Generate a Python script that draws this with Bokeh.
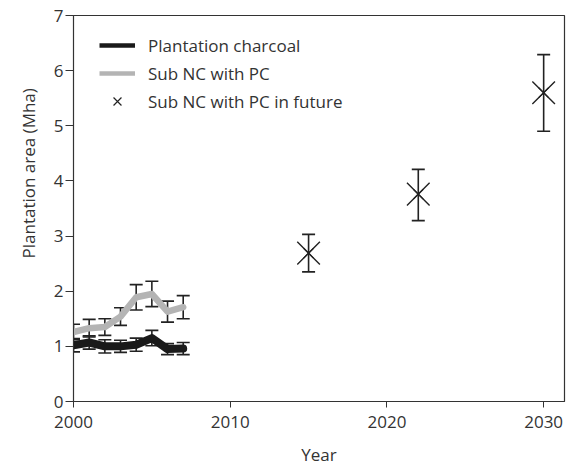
from bokeh.plotting import figure
from bokeh.models import (Range1d, FixedTicker, Whisker, TeeHead, ColumnDataSource,
                          Legend, LegendItem, Title)
from bokeh.embed import file_html
from bokeh.resources import INLINE

# ---- data ----
years_hist = [2000, 2001, 2002, 2003, 2004, 2005, 2006, 2007]
charcoal = [1.02, 1.07, 1.00, 1.00, 1.03, 1.15, 0.95, 0.96]
charcoal_err = [0.12, 0.12, 0.12, 0.11, 0.12, 0.14, 0.10, 0.11]
subnc = [1.26, 1.33, 1.35, 1.54, 1.89, 1.95, 1.63, 1.71]
subnc_err = [0.14, 0.16, 0.15, 0.16, 0.23, 0.23, 0.19, 0.21]
years_future = [2015, 2022, 2030]
future = [2.69, 3.76, 5.60]
future_lo = [2.35, 3.28, 4.90]
future_hi = [3.03, 4.21, 6.29]
x_ticks = [2000, 2010, 2020, 2030]
y_ticks = [0, 1, 2, 3, 4, 5, 6, 7]

FONT = "Open Sans"
TXT = "#333333"
FS = "17px"

p = figure(frame_width=491, frame_height=386, output_backend="svg", toolbar_location=None,
           x_range=Range1d(2000, 2031.33), y_range=Range1d(0, 7),
           min_border_left=73, min_border_right=2, min_border_top=15, min_border_bottom=60)
p.background_fill_color = "white"
p.border_fill_color = "white"
p.xgrid.visible = False
p.ygrid.visible = False
p.outline_line_color = "#333333"
p.outline_line_width = 1.2

for ax in (p.xaxis[0], p.yaxis[0]):
    ax.axis_line_color = "#333333"
    ax.major_tick_line_color = "#333333"
    ax.minor_tick_line_color = None
    ax.major_tick_in = 0
    ax.major_label_text_font = FONT
    ax.major_label_text_font_size = FS
    ax.major_label_text_color = TXT
    ax.axis_label_text_font = FONT
    ax.axis_label_text_font_size = FS
    ax.axis_label_text_color = TXT
    ax.axis_label_text_font_style = "normal"

p.xaxis.ticker = FixedTicker(ticks=x_ticks)
p.yaxis.ticker = FixedTicker(ticks=y_ticks)
p.xaxis.major_tick_out = 6
p.yaxis.major_tick_out = 8
p.xaxis.major_label_standoff = 8
p.yaxis.major_label_standoff = 2
p.xaxis.axis_label = "Year"
p.xaxis.axis_label_standoff = 12

src_c = ColumnDataSource(dict(x=years_hist, y=charcoal,
                              lo=[v - e for v, e in zip(charcoal, charcoal_err)],
                              hi=[v + e for v, e in zip(charcoal, charcoal_err)]))
src_s = ColumnDataSource(dict(x=years_hist, y=subnc,
                              lo=[v - e for v, e in zip(subnc, subnc_err)],
                              hi=[v + e for v, e in zip(subnc, subnc_err)]))
src_f = ColumnDataSource(dict(x=years_future, y=future, lo=future_lo, hi=future_hi))

GRAY = "#b4b4b4"
BLACK = "#1a1a1a"

# legend proxies: thinner styles, hidden underneath the real marks
r2 = p.line("x", "y", source=src_s, line_color=GRAY, line_width=4.5)
r1 = p.line("x", "y", source=src_c, line_color=BLACK, line_width=4.5)
r3 = p.scatter("x", "y", source=src_f, marker="x", size=14, line_color="#222222", line_width=1.2)

p.line("x", "y", source=src_s, line_color=GRAY, line_width=6.5, line_join="round", line_cap="round")
p.line("x", "y", source=src_c, line_color=BLACK, line_width=8, line_join="round", line_cap="round")

for src in (src_s, src_c, src_f):
    w = Whisker(source=src, base="x", lower="lo", upper="hi", line_color="#222222", line_width=1.6,
                upper_head=TeeHead(size=13, line_color="#222222", line_width=1.6),
                lower_head=TeeHead(size=13, line_color="#222222", line_width=1.6))
    p.add_layout(w)

p.scatter("x", "y", source=src_f, marker="x", size=32, line_color="#222222", line_width=1.4)

legend = Legend(items=[LegendItem(label="Plantation charcoal", renderers=[r1]),
                       LegendItem(label="Sub NC with PC", renderers=[r2]),
                       LegendItem(label="Sub NC with PC in future", renderers=[r3])],
                location=(26, 286), border_line_color=None, background_fill_alpha=0,
                margin=0, padding=0, spacing=0, glyph_width=36, glyph_height=28,
                label_height=28, label_standoff=13,
                label_text_font=FONT, label_text_font_size=FS, label_text_color=TXT)
p.add_layout(legend, "center")

p.add_layout(Title(text="Plantation area (Mha)", align="left", offset=143,
                   text_font=FONT, text_font_size=FS, text_color=TXT,
                   text_font_style="normal", standoff=22), "left")

open("out.html", "w").write(file_html(p, INLINE))
